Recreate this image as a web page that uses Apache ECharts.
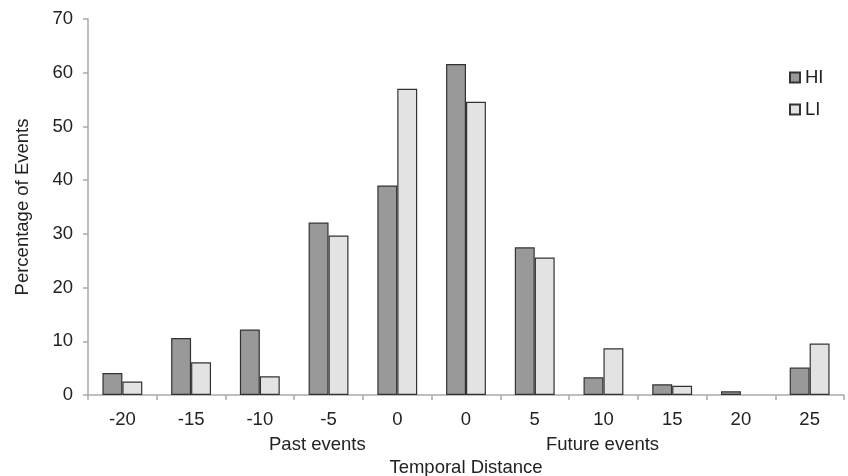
<!DOCTYPE html>
<html>
<head>
<meta charset="utf-8">
<script src="https://cdn.jsdelivr.net/npm/echarts@6/dist/echarts.min.js"></script>
<style>html,body{margin:0;padding:0;background:#fff}#c{width:848px;height:476px}</style>
</head>
<body>
<div id="c"></div>
<script>
const categories = ['-20', '-15', '-10', '-5', '0', '0', '5', '10', '15', '20', '25'];
const hiValues = [4.1, 10.6, 12.2, 32.1, 39.0, 61.6, 27.5, 3.3, 2.0, 0.7, 5.1];
const liValues = [2.5, 6.1, 3.5, 29.7, 57.0, 54.6, 25.6, 8.7, 1.7, 0, 9.6];
const yTicks = [0, 10, 20, 30, 40, 50, 60, 70];
const seriesNames = ['HI', 'LI'];

const font = 'Liberation Sans, Arial, sans-serif';
const fs = 18.5;
const hideZero = arr => arr.map(v => (v === 0 ? null : v));
const chart = echarts.init(document.getElementById('c'), null, {renderer: 'canvas', width: 848, height: 476});
chart.setOption({
  animation: false,
  backgroundColor: '#fff',
  grid: {left: 88, right: 4, top: 19, bottom: 81, containLabel: false, outerBoundsMode: 'none'},
  legend: {
    orient: 'vertical', left: 784, top: 63,
    itemWidth: 10, itemHeight: 10, itemGap: 13,
    icon: 'rect',
    textStyle: {fontFamily: font, fontSize: fs, color: '#222', padding: [0, 0, 0, 0]},
    data: seriesNames
  },
  xAxis: {
    type: 'category',
    data: categories,
    axisLine: {lineStyle: {color: '#aaa', width: 1.5}},
    axisTick: {show: true, length: 5, lineStyle: {color: '#aaa', width: 1.5}},
    axisLabel: {fontFamily: font, fontSize: fs, color: '#222', margin: 15},
    name: 'Temporal Distance',
    nameLocation: 'middle',
    nameGap: 63,
    nameTextStyle: {fontFamily: font, fontSize: fs, color: '#222'}
  },
  yAxis: {
    type: 'value',
    min: yTicks[0], max: yTicks[yTicks.length - 1], interval: 10,
    splitLine: {show: false},
    axisLine: {show: true, lineStyle: {color: '#aaa', width: 1.5}},
    axisTick: {show: true, length: 5, lineStyle: {color: '#aaa', width: 1.5}},
    axisLabel: {fontFamily: font, fontSize: fs, color: '#222', margin: 15},
    name: 'Percentage of Events',
    nameLocation: 'middle',
    nameGap: 56,
    nameTextStyle: {fontFamily: font, fontSize: fs, color: '#222'}
  },
  graphic: [
    {type: 'text', left: 269, top: 435, style: {text: 'Past events', fontFamily: font, fontSize: fs, fill: '#222'}},
    {type: 'text', left: 546, top: 435, style: {text: 'Future events', fontFamily: font, fontSize: fs, fill: '#222'}}
  ],
  series: [
    {
      name: seriesNames[0], type: 'bar', data: hideZero(hiValues),
      barGap: '0%', barCategoryGap: '42%',
      itemStyle: {color: '#999999', borderColor: '#333', borderWidth: 1.2}
    },
    {
      name: seriesNames[1], type: 'bar', data: hideZero(liValues),
      barGap: '0%', barCategoryGap: '42%',
      itemStyle: {color: '#e3e3e3', borderColor: '#333', borderWidth: 1.2}
    }
  ]
});
</script>
</body>
</html>
